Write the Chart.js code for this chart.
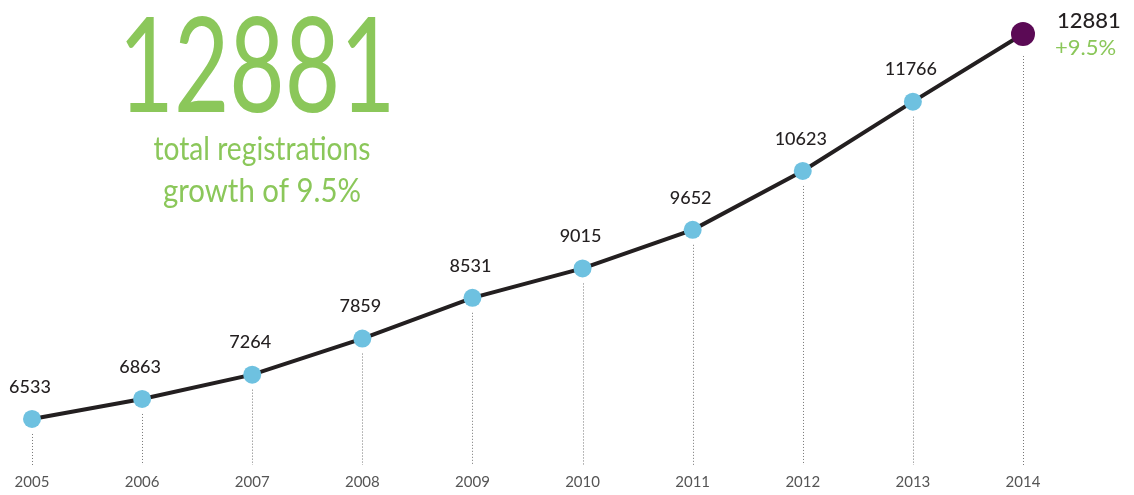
<!DOCTYPE html>
<html>
<head>
<meta charset="utf-8">
<script src="https://cdn.jsdelivr.net/npm/chart.js@4.4.1/dist/chart.umd.min.js"></script>
<style>
    html, body { margin: 0; padding: 0; background: #fff; }
    #wrap { position: relative; width: 1134px; height: 495px; }
</style>
</head>
<body>
<div id="wrap"><canvas id="chart-registrations"></canvas></div>
<script>
// data
const years = ['2005', '2006', '2007', '2008', '2009', '2010', '2011', '2012', '2013', '2014'];
const registrations = [6533, 6863, 7264, 7859, 8531, 9015, 9652, 10623, 11766, 12881];
const headlineTotal = '12881';
const headlineLines = ['total registrations', 'growth of 9.5%'];
const growthLabel = '+9.5%';

const GREEN = '#8bc75a';
const DARK = '#231f20';
const BLUE = '#6ec1e0';
const PURPLE = '#5b0a55';
const FONT = 'Lato, "Open Sans", sans-serif';

const last = registrations.length - 1;

// dotted drop lines + labels + headline
const decorPlugin = {
    id: 'decor',
    beforeDatasetsDraw(chart) {
        const ctx = chart.ctx;
        const meta = chart.getDatasetMeta(0);
        const bottom = chart.chartArea.bottom;
        ctx.save();
        ctx.strokeStyle = '#777';
        ctx.lineWidth = 1;
        ctx.setLineDash([1, 2]);
        meta.data.forEach((pt, i) => {
            const gap = i === last ? 22 : 15;
            ctx.beginPath();
            ctx.moveTo(Math.round(pt.x) + 0.5, pt.y + gap);
            ctx.lineTo(Math.round(pt.x) + 0.5, bottom + 2);
            ctx.stroke();
        });
        ctx.restore();
    },
    afterDatasetsDraw(chart) {
        const ctx = chart.ctx;
        const meta = chart.getDatasetMeta(0);
        ctx.save();

        // value labels
        ctx.fillStyle = DARK;
        ctx.font = '500 18px ' + FONT;
        ctx.textAlign = 'center';
        ctx.textBaseline = 'middle';
        meta.data.forEach((pt, i) => {
            if (i === last) return;
            ctx.fillText(String(registrations[i]), pt.x - 2, pt.y - 32);
        });

        // last point label
        const lp = meta.data[last];
        ctx.textAlign = 'left';
        ctx.font = '500 22px ' + FONT;
        ctx.fillText(String(registrations[last]), lp.x + 34, lp.y - 13);
        ctx.fillStyle = GREEN;
        ctx.font = '400 22px ' + FONT;
        ctx.fillText(growthLabel, lp.x + 32, lp.y + 14);

        // headline
        ctx.fillStyle = GREEN;
        ctx.textAlign = 'center';
        ctx.textBaseline = 'alphabetic';
        ctx.font = '400 131px ' + FONT;
        const w = ctx.measureText(headlineTotal).width;
        ctx.save();
        ctx.translate(257, 112);
        ctx.scale(277 / w, 1);
        ctx.fillText(headlineTotal, 0, 0);
        ctx.restore();

        ctx.font = '400 32px ' + FONT;
        const lineY = [160, 202];
        const lineW = [217, 198];
        headlineLines.forEach((t, i) => {
            const tw = ctx.measureText(t).width;
            ctx.save();
            ctx.translate(262, lineY[i]);
            ctx.scale(lineW[i] / tw, 1);
            ctx.fillText(t, 0, 0);
            ctx.restore();
        });
        ctx.restore();
    }
};

new Chart(document.getElementById('chart-registrations'), {
    type: 'line',
    data: {
        labels: years,
        datasets: [{
            data: registrations,
            borderColor: DARK,
            borderWidth: 4,
            tension: 0,
            fill: false,
            clip: false,
            pointRadius: registrations.map((v, i) => i === last ? 12 : 9),
            pointBackgroundColor: registrations.map((v, i) => i === last ? PURPLE : BLUE),
            pointBorderWidth: 0,
            pointHoverRadius: 0
        }]
    },
    options: {
        responsive: true,
        maintainAspectRatio: false,
        animation: false,
        events: [],
        layout: {
            padding: { left: 32, right: 111, top: 20, bottom: 0 }
        },
        plugins: {
            legend: { display: false },
            tooltip: { enabled: false }
        },
        scales: {
            x: {
                offset: false,
                grid: { display: false, drawTicks: false },
                border: { display: false },
                afterFit(scale) { scale.height = 32; },
                ticks: {
                    color: '#555',
                    padding: 10,
                    maxRotation: 0,
                    autoSkip: false,
                    font: { family: FONT, size: 15, weight: '400' }
                }
            },
            y: {
                display: false,
                min: 5807,
                max: 13112
            }
        }
    },
    plugins: [decorPlugin]
});
</script>
</body>
</html>
